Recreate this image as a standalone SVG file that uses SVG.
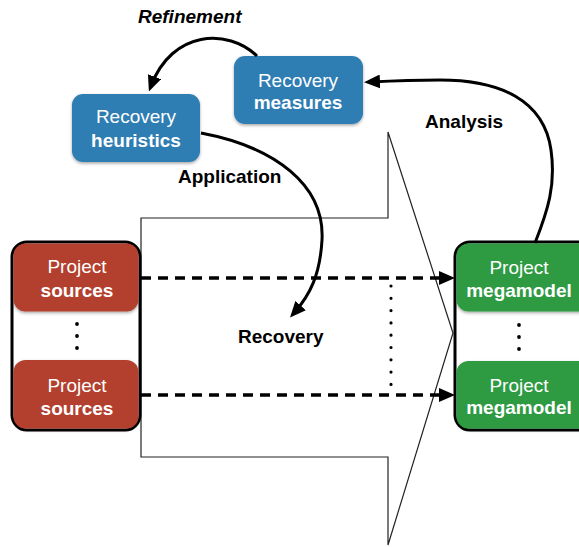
<svg xmlns="http://www.w3.org/2000/svg" width="579" height="547" viewBox="0 0 579 547">
  <defs>
    <style>
      text { font-family: "Liberation Sans", Arial, Helvetica, sans-serif; font-size: 19px; }
      .node-text { fill: #ffffff; text-anchor: middle; }
      .light { font-weight: normal; }
      .bold { font-weight: bold; }
      .label { fill: #000000; font-weight: bold; }
      .blue { fill: #2f7db3; }
      .red { fill: #b3412e; }
      .green { fill: #2f9a42; }
      .container { fill: #ffffff; stroke: #000000; stroke-width: 3; }
      .curve { fill: none; stroke: #000000; stroke-width: 3; }
      .dashed { fill: none; stroke: #000000; stroke-width: 3.5; stroke-dasharray: 10 7; }
      .dotted { fill: none; stroke: #000000; stroke-width: 3.2; stroke-linecap: round; stroke-dasharray: 0 12.3; }
      .dot { fill: #000000; }
      .outline { fill: none; stroke: #222222; stroke-width: 1.2; stroke-linejoin: miter; }
    </style>
    <marker id="head" viewBox="0 0 16 14" refX="10" refY="7" markerWidth="16" markerHeight="14" markerUnits="userSpaceOnUse" orient="auto">
      <path d="M0,0 L16,7 L0,14 z" fill="#000000"/>
    </marker>
    <filter id="shadow" x="-10%" y="-10%" width="120%" height="130%">
      <feDropShadow dx="0" dy="1.5" stdDeviation="1.5" flood-color="#000000" flood-opacity="0.35"/>
    </filter>
  </defs>

  <!-- large process arrow in the background -->
  <polygon class="outline" points="141,218 388,218 388,132 453,333 388,545 388,457 141,457"/>

  <!-- project sources stack -->
  <g id="sources">
    <rect class="container" x="12" y="242" width="128" height="188" rx="15"/>
    <g id="sources-1" filter="url(#shadow)">
      <rect class="red" x="13.5" y="243.5" width="125" height="68" rx="12"/>
    </g>
    <text class="node-text light" x="77" y="273">Project</text>
    <text class="node-text bold" x="77" y="297">sources</text>
    <circle class="dot" cx="77" cy="324" r="1.9"/>
    <circle class="dot" cx="77" cy="336" r="1.9"/>
    <circle class="dot" cx="77" cy="348" r="1.9"/>
    <g id="sources-2" filter="url(#shadow)">
      <rect class="red" x="13.5" y="360" width="125" height="68.5" rx="12"/>
    </g>
    <text class="node-text light" x="77" y="392">Project</text>
    <text class="node-text bold" x="77" y="415">sources</text>
  </g>

  <!-- project megamodel stack -->
  <g id="megamodels">
    <rect class="container" x="455" y="242" width="140" height="188" rx="15"/>
    <g id="megamodel-1" filter="url(#shadow)">
      <rect class="green" x="456.5" y="243.5" width="137" height="68" rx="12"/>
    </g>
    <text class="node-text light" x="519" y="274">Project</text>
    <text class="node-text bold" x="519" y="297">megamodel</text>
    <circle class="dot" cx="519" cy="325" r="1.9"/>
    <circle class="dot" cx="519" cy="337" r="1.9"/>
    <circle class="dot" cx="519" cy="349" r="1.9"/>
    <g id="megamodel-2" filter="url(#shadow)">
      <rect class="green" x="456.5" y="361" width="137" height="67.5" rx="12"/>
    </g>
    <text class="node-text light" x="519" y="392">Project</text>
    <text class="node-text bold" x="519" y="414">megamodel</text>
  </g>

  <!-- recovery heuristics -->
  <g id="heuristics">
    <rect class="blue" x="72" y="94" width="128" height="68" rx="11" filter="url(#shadow)"/>
    <text class="node-text light" x="136" y="123">Recovery</text>
    <text class="node-text bold" x="136" y="147">heuristics</text>
  </g>

  <!-- recovery measures -->
  <g id="measures">
    <rect class="blue" x="234" y="56" width="129" height="68" rx="11" filter="url(#shadow)"/>
    <text class="node-text light" x="298" y="87">Recovery</text>
    <text class="node-text bold" x="298" y="109">measures</text>
  </g>

  <!-- connectors -->
  <g id="connectors">
    <path class="curve" d="M257,56 C228,28 172,30 151,86" marker-end="url(#head)"/>
    <path class="curve" d="M201,133 C275,147 325,185 322,240 C320,275 310,295 294,313" marker-end="url(#head)"/>
    <path class="curve" d="M535,243 C548,210 556,185 551,150 C544,100 500,80 440,80 C410,80 390,81 370,82" marker-end="url(#head)"/>
    <path class="dashed" d="M141,278 L449,278" marker-end="url(#head)"/>
    <path class="dashed" d="M141,395 L449,395" marker-end="url(#head)"/>
    <path class="dotted" d="M391,286 L391,385"/>
  </g>

  <!-- connector labels -->
  <g id="labels">
    <text class="label" x="138" y="23" font-style="italic">Refinement</text>
    <text class="label" x="178" y="183">Application</text>
    <text class="label" x="425" y="128">Analysis</text>
    <text class="label" x="238" y="343">Recovery</text>
  </g>
</svg>
